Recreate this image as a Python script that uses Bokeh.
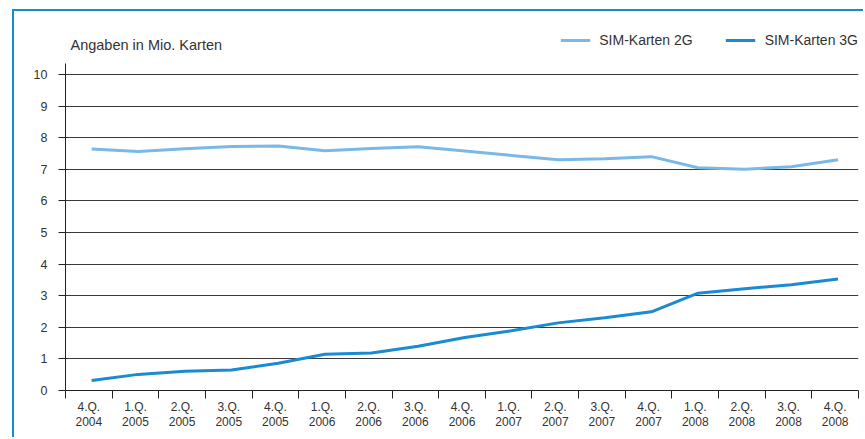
import numpy as np
from bokeh.plotting import figure
from bokeh.models import (Range1d, FixedTicker, Legend, LegendItem, Label, ColumnDataSource)
from bokeh.transform import dodge
from bokeh.embed import file_html
from bokeh.resources import INLINE

quarters = ["4.Q.", "1.Q.", "2.Q.", "3.Q.", "4.Q.", "1.Q.", "2.Q.", "3.Q.", "4.Q.",
            "1.Q.", "2.Q.", "3.Q.", "4.Q.", "1.Q.", "2.Q.", "3.Q.", "4.Q."]
years = ["2004", "2005", "2005", "2005", "2005", "2006", "2006", "2006", "2006",
         "2007", "2007", "2007", "2007", "2008", "2008", "2008", "2008"]
sim_2g = [7.64, 7.56, 7.65, 7.72, 7.74, 7.59, 7.66, 7.71, 7.58, 7.44, 7.30,
          7.33, 7.40, 7.05, 7.00, 7.08, 7.30]
sim_3g = [0.32, 0.51, 0.61, 0.65, 0.86, 1.15, 1.19, 1.40, 1.68, 1.89, 2.14,
          2.30, 2.49, 3.08, 3.22, 3.35, 3.53]
y_ticks = list(range(0, 11))

n = len(quarters)
centers = np.arange(n) + 0.5
bounds = list(range(0, n + 1))
labels = {float(c): f"{q}\n{y}" for c, q, y in zip(centers, quarters, years)}

FONT = "Liberation Sans"
TXT = "#333333"
C2G = "#7ab8e5"
C3G = "#1a8ad2"

p = figure(width=851, height=428, output_backend="svg", toolbar_location=None,
           x_range=Range1d(0, n), y_range=Range1d(0, 360 / 31.6),
           min_border_left=51, min_border_right=7, min_border_top=19, min_border_bottom=49)
p.outline_line_color = None
p.background_fill_color = "white"
p.border_fill_color = "white"
p.styles = {"margin-left": "12px", "margin-top": "9px",
            "border-left": "2px solid #1a8ad2", "border-top": "2px solid #1a8ad2"}

# x axis
xa = p.xaxis[0]
xa.ticker = FixedTicker(ticks=list(centers), minor_ticks=bounds)
xa.major_label_overrides = labels
xa.major_tick_out = 0
xa.major_tick_in = 0
xa.minor_tick_out = 8
xa.minor_tick_in = 0
xa.minor_tick_line_color = "#222222"
xa.axis_line_color = "#222222"
xa.major_label_standoff = 1
xa.major_label_text_font = FONT
xa.major_label_text_font_size = "12px"
xa.major_label_text_color = TXT
xa.major_label_text_line_height = 1.08

# y axis
ya = p.yaxis[0]
ya.ticker = FixedTicker(ticks=y_ticks)
ya.bounds = (0, 10.35)
ya.major_tick_out = 7
ya.major_tick_in = 0
ya.minor_tick_line_color = None
ya.axis_line_color = "#222222"
ya.major_tick_line_color = "#222222"
ya.major_label_standoff = 11
ya.major_label_text_font = FONT
ya.major_label_text_font_size = "12.5px"
ya.major_label_text_color = TXT

p.xgrid.visible = False
p.ygrid.ticker = FixedTicker(ticks=y_ticks)
p.ygrid.grid_line_color = "#3a3a3a"
p.ygrid.grid_line_width = 1

source = ColumnDataSource(dict(x=centers, g2=sim_2g, g3=sim_3g))
r2 = p.line(x=dodge("x", 0.06, range=p.x_range), y="g2", source=source,
            line_color=C2G, line_width=3)
r3 = p.line(x=dodge("x", 0.06, range=p.x_range), y="g3", source=source,
            line_color=C3G, line_width=3)

legend = Legend(items=[LegendItem(label="SIM-Karten 2G", renderers=[r2]),
                       LegendItem(label="SIM-Karten 3G", renderers=[r3])],
                orientation="horizontal", location="top_right",
                border_line_color=None, background_fill_alpha=0,
                padding=0, margin=0, spacing=33, label_standoff=9,
                glyph_width=30, glyph_height=20, label_height=20,
                label_text_font=FONT, label_text_font_size="14px",
                label_text_color=TXT)
p.add_layout(legend)

p.add_layout(Label(x=5, y=346, x_units="screen", y_units="screen",
                   text="Angaben in Mio. Karten", text_font=FONT,
                   text_font_size="14.5px", text_color=TXT, text_baseline="middle"))

open("out.html", "w").write(file_html(p, INLINE))
